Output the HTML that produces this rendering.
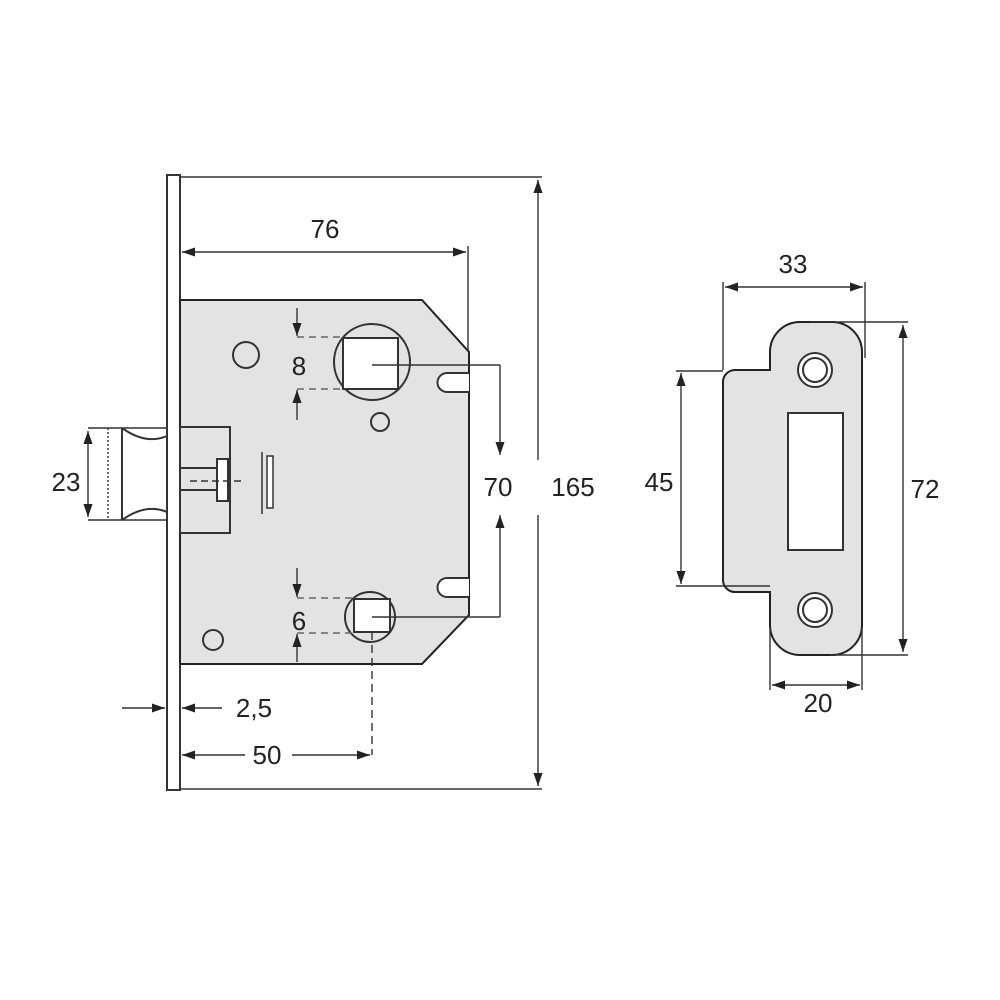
<!DOCTYPE html>
<html><head><style>body{margin:0;background:#fff}svg{display:block}text{font-family:"Liberation Sans",sans-serif;font-size:26px;fill:#222}</style></head><body>
<svg width="1000" height="1000" viewBox="0 0 1000 1000" xmlns="http://www.w3.org/2000/svg">
<defs><marker id="a" viewBox="0 0 10 10" refX="10" refY="5" markerWidth="13" markerHeight="13" orient="auto-start-reverse" markerUnits="userSpaceOnUse"><path d="M0,1.5L10,5L0,8.5z" fill="#222"/></marker></defs>
<g stroke="#333" stroke-width="1.4" fill="none">
<rect x="167" y="175" width="13" height="615" fill="#fff" stroke-width="2"/>
<line x1="180" y1="177" x2="542" y2="177"/><line x1="180" y1="789" x2="542" y2="789"/>
<line x1="538" y1="180" x2="538" y2="460" marker-start="url(#a)"/><line x1="538" y1="515" x2="538" y2="786" marker-end="url(#a)"/>
<line x1="182" y1="252" x2="466" y2="252" marker-start="url(#a)" marker-end="url(#a)"/>
<line x1="468" y1="246" x2="468" y2="352"/>
<polygon points="180,300 422,300 469,352 469,615 422,664 180,664" fill="#e3e3e3" stroke="#222" stroke-width="2"/>
<circle cx="372" cy="362" r="38" fill="#e3e3e3" stroke-width="2"/>
<rect x="343" y="338" width="55" height="51" fill="#fff" stroke-width="2"/>
<circle cx="246" cy="355" r="13" stroke-width="2"/>
<circle cx="380" cy="422" r="9" stroke-width="2"/>
<circle cx="213" cy="640" r="10" stroke-width="2"/>
<circle cx="370" cy="617" r="25" fill="#e3e3e3" stroke-width="2"/>
<rect x="354" y="599" width="36" height="33" fill="#fff" stroke-width="2"/>
<path d="M469,373 H447 a9,9 0 0 0 0,19 H469" fill="#fff" stroke-width="2"/>
<path d="M469,578 H447 a9,9 0 0 0 0,19 H469" fill="#fff" stroke-width="2"/>
<rect x="180" y="427" width="50" height="106" stroke-width="2"/>
<rect x="180" y="468" width="37" height="22" fill="#e3e3e3" stroke-width="2"/>
<rect x="217" y="459" width="11" height="42" fill="#fff" stroke-width="2"/>
<line x1="190" y1="481" x2="245" y2="481" stroke-dasharray="7,4"/>
<line x1="262" y1="452" x2="262" y2="514" stroke-width="1.5"/>
<rect x="267" y="456" width="6" height="52" fill="#fff" stroke-width="1.5"/>
<path d="M88,428 H167 M88,520 H167" />
<line x1="108" y1="428" x2="108" y2="520" stroke-dasharray="2,2"/>
<path d="M122,428 V520" stroke-width="2"/>
<path d="M122,428 Q146,445 167,436 M122,520 Q146,503 167,512" stroke-width="2"/>
<line x1="88" y1="431" x2="88" y2="517" marker-start="url(#a)" marker-end="url(#a)"/>
<path d="M297,337 H343 M297,389 H343" stroke-dasharray="7,5" stroke="#666"/>
<line x1="297" y1="308" x2="297" y2="336" marker-end="url(#a)"/>
<line x1="297" y1="420" x2="297" y2="390" marker-end="url(#a)"/>
<path d="M297,598 H354 M297,633 H354" stroke-dasharray="7,5" stroke="#666"/>
<line x1="297" y1="568" x2="297" y2="597" marker-end="url(#a)"/>
<line x1="297" y1="662" x2="297" y2="634" marker-end="url(#a)"/>
<path d="M372,365 H500 M372,617 H500"/>
<line x1="500" y1="365" x2="500" y2="455" marker-end="url(#a)"/>
<line x1="500" y1="617" x2="500" y2="515" marker-end="url(#a)"/>
<line x1="122" y1="708" x2="165" y2="708" marker-end="url(#a)"/>
<line x1="222" y1="708" x2="182" y2="708" marker-end="url(#a)"/>
<line x1="245" y1="755" x2="182" y2="755" marker-end="url(#a)"/>
<line x1="292" y1="755" x2="370" y2="755" marker-end="url(#a)"/>
<line x1="372" y1="632" x2="372" y2="755" stroke-dasharray="8,5"/>
<path d="M800,322 H832 a30,30 0 0 1 30,30 V625 a30,30 0 0 1 -30,30 H800 a30,30 0 0 1 -30,-30 V592 H735 a12,12 0 0 1 -12,-12 V382 a12,12 0 0 1 12,-12 H770 V352 a30,30 0 0 1 30,-30z" fill="#e3e3e3" stroke="#222" stroke-width="2"/>
<circle cx="815" cy="370" r="17" fill="#fff" stroke-width="2"/><circle cx="815" cy="370" r="12" stroke-width="2"/>
<circle cx="815" cy="610" r="17" fill="#fff" stroke-width="2"/><circle cx="815" cy="610" r="12" stroke-width="2"/>
<rect x="788" y="413" width="55" height="137" fill="#fff" stroke-width="2"/>
<line x1="723" y1="282" x2="723" y2="370"/><line x1="865" y1="282" x2="865" y2="358"/>
<line x1="725" y1="287" x2="863" y2="287" marker-start="url(#a)" marker-end="url(#a)"/>
<path d="M676,371 H723 M676,586 H770"/>
<line x1="681" y1="373" x2="681" y2="584" marker-start="url(#a)" marker-end="url(#a)"/>
<path d="M810,322 H908 M830,655 H908"/>
<line x1="903" y1="325" x2="903" y2="652" marker-start="url(#a)" marker-end="url(#a)"/>
<line x1="770" y1="630" x2="770" y2="690"/><line x1="862" y1="630" x2="862" y2="690"/>
<line x1="772" y1="685" x2="860" y2="685" marker-start="url(#a)" marker-end="url(#a)"/>
</g>
<g text-anchor="middle">
<text x="325" y="238">76</text>
<text x="299" y="375">8</text>
<text x="299" y="630">6</text>
<text x="498" y="496">70</text>
<text x="573" y="496">165</text>
<text x="66" y="491">23</text>
<text x="254" y="717">2,5</text>
<text x="267" y="764">50</text>
<text x="793" y="273">33</text>
<text x="659" y="491">45</text>
<text x="925" y="498">72</text>
<text x="818" y="712">20</text>
</g>
</svg>
</body></html>
